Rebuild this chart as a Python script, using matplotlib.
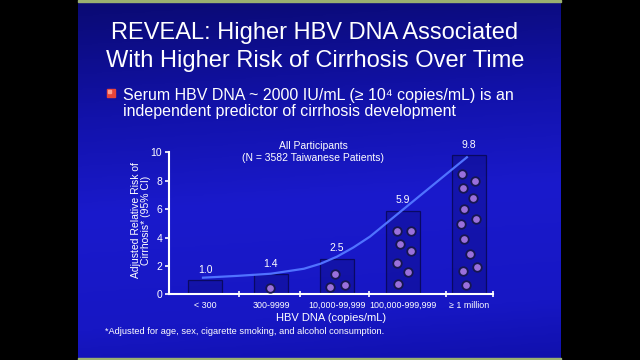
import matplotlib
matplotlib.use('Agg')
import matplotlib.pyplot as plt
import numpy as np
from matplotlib.colors import LinearSegmentedColormap
from matplotlib.patches import Rectangle

plt.rcParams['font.family'] = ['Liberation Sans', 'DejaVu Sans']

# data
categories = ['< 300', '300-9999', '10,000-99,999', '100,000-999,999', '\u2265 1 million']
risk = [1.0, 1.4, 2.5, 5.9, 9.8]
risk_labels = ['1.0', '1.4', '2.5', '5.9', '9.8']

# purple dots drawn inside the bars: category, x offset, height
dot_cat = [1, 2, 2, 2, 3, 3, 3, 3, 3, 3, 3,
           4, 4, 4, 4, 4, 4, 4, 4, 4, 4, 4, 4]
dot_dx = [-0.015, -0.03, -0.11, 0.12,
          -0.095, 0.13, -0.04, 0.12, -0.09, 0.08, -0.076,
          -0.10, 0.095, -0.095, 0.056, -0.076, 0.106, -0.12, -0.076, 0.015, 0.12, -0.086, -0.045]
dot_y = [0.42, 1.41, 0.54, 0.63,
         4.48, 4.44, 3.52, 3.07, 2.20, 1.57, 0.75,
         8.47, 7.96, 7.49, 6.76, 5.99, 5.28, 4.95, 3.87, 2.84, 1.90, 1.66, 0.68]

# trend curve
curve_x = [-0.03, 0.5, 1.0, 1.5, 1.75, 2.0, 2.25, 2.5, 3.97]
curve_y = [1.17, 1.30, 1.45, 1.80, 2.15, 2.65, 3.30, 4.06, 9.65]

fig = plt.figure(figsize=(6.4, 3.6), dpi=100)

# slide background
bg = fig.add_axes([0, 0, 1, 1])
bg.set_xlim(0, 640)
bg.set_ylim(360, 0)
bg.axis('off')
fig.patch.set_facecolor('black')
cmap = LinearSegmentedColormap.from_list('slide', [(0.0, '#0a0a72'), (0.3, '#1212aa'),
                                                    (0.55, '#1a1acc'), (0.85, '#1717c4'),
                                                    (1.0, '#1010ac')])
t = np.linspace(0, 1, 200)[:, None]
h = np.linspace(0, 1, 100)[None, :]
grad = t * 0.92 + h * 0.08
bg.imshow(grad, cmap=cmap, extent=[78, 561, 360, 0], aspect='auto', zorder=0)
bg.add_patch(Rectangle((78, 0), 483, 1.5, color='#9ab070', zorder=1))
bg.add_patch(Rectangle((78, 358), 483, 2, color='#9ab070', zorder=1))
bg.add_patch(Rectangle((107, 89), 7.5, 8, color='#e8453a', zorder=2))
bg.add_patch(Rectangle((107.5, 89.5), 3, 3.5, color='#ff9f90', zorder=3))

# slide text
fig.text(315 / 640, 1 - 39 / 360, 'REVEAL: Higher HBV DNA Associated', color='white',
         fontsize=17, ha='center', va='baseline')
fig.text(315 / 640, 1 - 67 / 360, 'With Higher Risk of Cirrhosis Over Time', color='white',
         fontsize=17, ha='center', va='baseline')
fig.text(123 / 640, 1 - 100 / 360, 'Serum HBV DNA ~ 2000 IU/mL (\u2265 10\u2074 copies/mL) is an',
         color='white', fontsize=11.5, ha='left', va='baseline')
fig.text(123 / 640, 1 - 116 / 360, 'independent predictor of cirrhosis development',
         color='white', fontsize=11.5, ha='left', va='baseline')

# chart
ax = fig.add_axes([169 / 640, 1 - 294.3 / 360, 324.3 / 640, 142 / 360])
ax.set_facecolor('none')
x = np.arange(len(categories))
ax.bar(x, risk, width=0.515, facecolor=(0.0, 0.0, 0.2, 0.2),
       edgecolor=(0.0, 0.0, 0.12, 0.55), linewidth=0.9, zorder=2)
ax.scatter(np.array(dot_cat) + np.array(dot_dx), dot_y, s=38, c='#9a70dc',
           edgecolors='#161650', linewidths=1.3, zorder=3)
ax.plot(curve_x, curve_y, color='#5072ff', linewidth=1.6, zorder=4, clip_on=False)
for i, v in enumerate(risk):
    ax.annotate(risk_labels[i], (i, v), xytext=(0, 7.5), textcoords='offset points',
                ha='center', va='center', color='white', fontsize=7.5)

ax.set_xlim(-0.545, 4.37)
ax.set_ylim(0, 10)
ax.set_yticks([0, 2, 4, 6, 8, 10])
ax.set_xticks(x)
ax.set_xticklabels(categories)
ax.set_xticks([0.52, 1.44, 2.48, 3.66, 4.37], minor=True)
ax.tick_params(axis='x', which='major', length=0, pad=5, labelsize=6.4, labelcolor='white')
ax.tick_params(axis='x', which='minor', direction='inout', length=5, width=1.2, color='white')
ax.tick_params(axis='y', direction='out', length=3, width=1.2, color='white',
               labelsize=7.5, labelcolor='white', pad=2)
for s in ['top', 'right']:
    ax.spines[s].set_visible(False)
for s in ['left', 'bottom']:
    ax.spines[s].set_color('white')
    ax.spines[s].set_linewidth(1.5)

fig.text(141 / 640, 1 - 220 / 360, 'Adjusted Relative Risk of\nCirrhosis* (95% CI)',
         rotation=90, color='white', fontsize=7.5, ha='center', va='center', linespacing=1.0)
fig.text(313 / 640, 1 - 146 / 360, 'All Participants', color='white', fontsize=7.5,
         ha='center', va='center')
fig.text(313 / 640, 1 - 158 / 360, '(N = 3582 Taiwanese Patients)', color='white', fontsize=7.5,
         ha='center', va='center')
fig.text(331.5 / 640, 1 - 318 / 360, 'HBV DNA (copies/mL)', color='white', fontsize=8,
         ha='center', va='center')
fig.text(105 / 640, 1 - 331 / 360, '*Adjusted for age, sex, cigarette smoking, and alcohol consumption.',
         color='white', fontsize=6.7, ha='left', va='center')

fig.savefig('out.png', dpi=100, facecolor='black')
